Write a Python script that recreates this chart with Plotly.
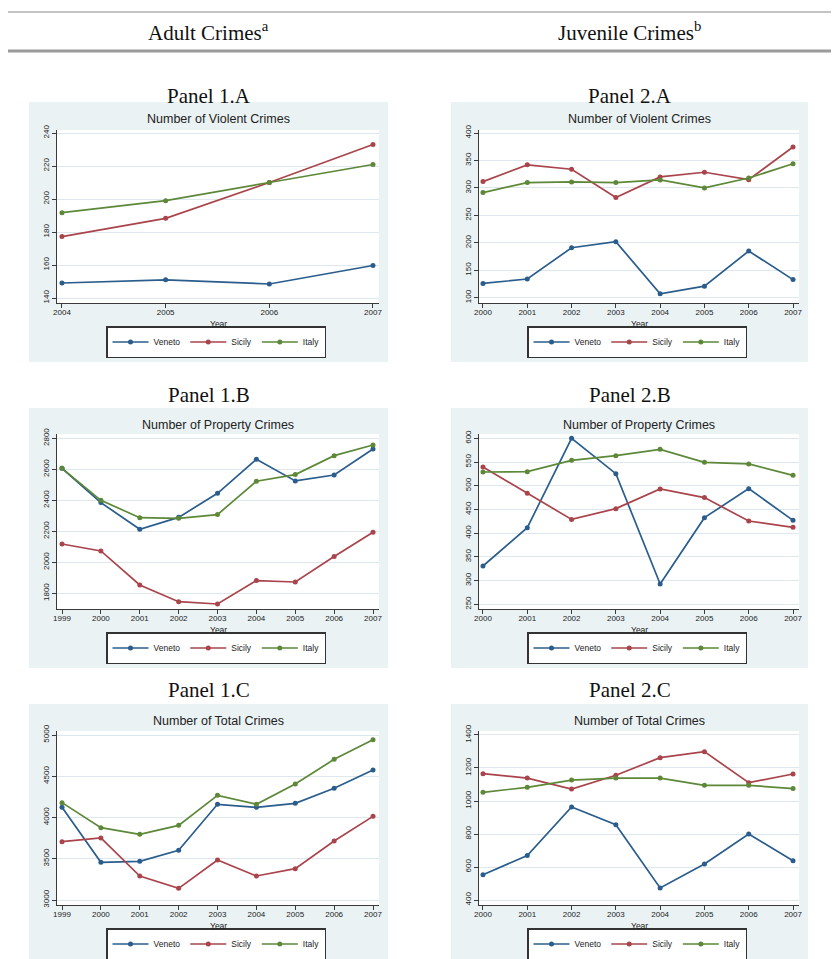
import plotly.graph_objects as go

W, H = 839, 959

# ---------------- data ----------------
series_names = ["Veneto", "Sicily", "Italy"]

years_1a = [2004, 2005, 2006, 2007]
years_adult = [1999, 2000, 2001, 2002, 2003, 2004, 2005, 2006, 2007]
years_juv = [2000, 2001, 2002, 2003, 2004, 2005, 2006, 2007]

# Panel 1.A  Adult violent crimes
adult_violent_veneto = [149.1, 151.0, 148.5, 159.7]
adult_violent_sicily = [177.2, 188.3, 210.0, 233.0]
adult_violent_italy = [191.7, 199.0, 210.0, 220.9]

# Panel 2.A  Juvenile violent crimes
juv_violent_veneto = [126, 134, 191, 202, 107, 121, 185, 133]
juv_violent_sicily = [311.5, 342, 334, 282.4, 320, 328.5, 315, 374.5]
juv_violent_italy = [291.5, 309.7, 311, 309.7, 314.5, 300, 318, 344]

# Panel 1.B  Adult property crimes
adult_property_veneto = [2606, 2385, 2213, 2290, 2445, 2665, 2525, 2563, 2731]
adult_property_sicily = [2118, 2073, 1854, 1746, 1731, 1882, 1873, 2037, 2194]
adult_property_italy = [2606, 2400, 2288, 2284, 2308, 2523, 2566, 2688, 2757]

# Panel 2.B  Juvenile property crimes
juv_property_veneto = [330.8, 411.6, 600, 525.5, 292.9, 432.7, 493.9, 427]
juv_property_sicily = [539.6, 484, 429, 451.7, 493.2, 475, 425.7, 412.4]
juv_property_italy = [529, 529.7, 553.6, 563.5, 576.8, 549.4, 546, 522]

# Panel 1.C  Adult total crimes
adult_total_veneto = [4123, 3457, 3469, 3602, 4160, 4123, 4172, 4354, 4576]
adult_total_sicily = [3707, 3752, 3291, 3141, 3485, 3291, 3380, 3715, 4014]
adult_total_italy = [4180, 3877, 3796, 3905, 4269, 4160, 4406, 4705, 4943]

# Panel 2.C  Juvenile total crimes
juv_total_veneto = [553.5, 669, 963.6, 856.6, 472.7, 618, 800, 638]
juv_total_sicily = [1165.7, 1139, 1072.7, 1155.6, 1262.6, 1299, 1111, 1163.6]
juv_total_italy = [1052.5, 1083, 1127, 1139, 1139, 1095, 1095, 1075]

# tick values
yticks_1a = [140, 160, 180, 200, 220, 240]
yticks_2a = [100, 150, 200, 250, 300, 350, 400]
yticks_1b = [1800, 2000, 2200, 2400, 2600, 2800]
yticks_2b = [250, 300, 350, 400, 450, 500, 550, 600]
yticks_1c = [3000, 3500, 4000, 4500, 5000]
yticks_2c = [400, 600, 800, 1000, 1200, 1400]

column_headers = ["Adult Crimes<sup>a</sup>", "Juvenile Crimes<sup>b</sup>"]
panel_labels = ["Panel 1.A", "Panel 2.A", "Panel 1.B", "Panel 2.B", "Panel 1.C", "Panel 2.C"]
chart_titles = ["Number of Violent Crimes", "Number of Violent Crimes",
                "Number of Property Crimes", "Number of Property Crimes",
                "Number of Total Crimes", "Number of Total Crimes"]
x_title = "Year"

# ---------------- styling ----------------
colors = ["#2A5D8C", "#A9444B", "#5C8838"]
bg_blue = "#EAF2F4"
grid_col = "#DDE8EE"
axis_col = "#3a3a3a"
sans = "Liberation Sans, Arial, sans-serif"
serif = "Liberation Serif, Times New Roman, serif"

# pixel geometry (page pixels): columns / rows
col_bg = [(29, 388), (451, 808)]
col_plot = [(57, 379), (479, 799)]
row_bg = [(102, 362), (408, 668), (704, 975)]
row_plot = [(130, 303), (434, 609), (731, 905)]
row_panel_label_y = [96, 395, 690]

OFF = 8  # page body margin compensation

panels = [
    dict(x=years_1a, ys=[adult_violent_veneto, adult_violent_sicily, adult_violent_italy],
         xr=[2003.952, 2007.058], yr=[136.97, 241.82], xt=years_1a, yt=yticks_1a),
    dict(x=years_juv, ys=[juv_violent_veneto, juv_violent_sicily, juv_violent_italy],
         xr=[1999.91, 2007.135], yr=[90.35, 405.5], xt=years_juv, yt=yticks_2a),
    dict(x=years_adult, ys=[adult_property_veneto, adult_property_sicily, adult_property_italy],
         xr=[1998.871, 2007.154], yr=[1698.7, 2827.7], xt=years_adult, yt=yticks_1b),
    dict(x=years_juv, ys=[juv_property_veneto, juv_property_sicily, juv_property_italy],
         xr=[1999.91, 2007.135], yr=[240.1, 609.1], xt=years_juv, yt=yticks_2b),
    dict(x=years_adult, ys=[adult_total_veneto, adult_total_sicily, adult_total_italy],
         xr=[1998.871, 2007.154], yr=[2939.4, 5048.5], xt=years_adult, yt=yticks_1c),
    dict(x=years_juv, ys=[juv_total_veneto, juv_total_sicily, juv_total_italy],
         xr=[1999.91, 2007.135], yr=[369.7, 1424.2], xt=years_juv, yt=yticks_2c),
]


def px_x(p):
    return (p - OFF) / W


def px_y(p):
    return 1 - (p - OFF) / H


fig = go.Figure()
shapes = []
annotations = []
layout_extra = {}

# header lines
shapes.append(dict(type="line", xref="paper", yref="paper", x0=px_x(7), x1=px_x(845),
                   y0=px_y(12), y1=px_y(12), line=dict(color="#8a8a8a", width=1.2)))
shapes.append(dict(type="line", xref="paper", yref="paper", x0=px_x(7), x1=px_x(845),
                   y0=px_y(51), y1=px_y(51), line=dict(color="#9a9a9a", width=3)))
for c, txt in enumerate(column_headers):
    cx = (col_bg[c][0] + col_bg[c][1]) / 2
    annotations.append(dict(text=txt, x=px_x(cx), y=px_y(32), xref="paper", yref="paper",
                            showarrow=False, xanchor="center", yanchor="middle",
                            font=dict(family=serif, size=21, color="#111")))

for i, p in enumerate(panels):
    r, c = divmod(i, 2)
    k = i + 1
    xa = "xaxis" if k == 1 else f"xaxis{k}"
    ya = "yaxis" if k == 1 else f"yaxis{k}"
    xref = "x" if k == 1 else f"x{k}"
    yref = "y" if k == 1 else f"y{k}"
    leg = "legend" if k == 1 else f"legend{k}"

    bx0, bx1 = col_bg[c]
    by0, by1 = row_bg[r]
    px0, px1 = col_plot[c]
    py0, py1 = row_plot[r]

    shapes.append(dict(type="rect", xref="paper", yref="paper", layer="below",
                       x0=px_x(bx0), x1=px_x(bx1), y0=px_y(by1), y1=px_y(by0),
                       fillcolor=bg_blue, line=dict(width=0)))
    shapes.append(dict(type="rect", xref="paper", yref="paper", layer="below",
                       x0=px_x(px0), x1=px_x(px1), y0=px_y(py1), y1=px_y(py0),
                       fillcolor="white", line=dict(width=0)))

    for s, name in enumerate(series_names):
        fig.add_trace(go.Scatter(
            x=p["x"], y=p["ys"][s], name=name, mode="lines+markers",
            line=dict(color=colors[s], width=1.7),
            marker=dict(color=colors[s], size=5),
            xaxis=xref, yaxis=yref, legend=leg, showlegend=True,
        ))

    layout_extra[xa] = dict(
        domain=[px_x(px0), px_x(px1)], range=p["xr"], tickmode="array", tickvals=p["xt"],
        ticktext=[str(v) for v in p["xt"]], showgrid=False, zeroline=False,
        showline=True, linecolor=axis_col, linewidth=1, ticks="outside", ticklen=4,
        tickcolor=axis_col, tickfont=dict(family=sans, size=8, color="#222"),
        ticklabelstandoff=-3,
        anchor=yref, fixedrange=True, automargin=False,
    )
    layout_extra[ya] = dict(
        domain=[px_y(py1), px_y(py0)], range=p["yr"], tickmode="array", tickvals=p["yt"],
        ticktext=[str(v) for v in p["yt"]], showgrid=True, gridcolor=grid_col, gridwidth=1,
        zeroline=False, showline=True, linecolor=axis_col, linewidth=1, ticks="outside",
        ticklen=4, tickcolor=axis_col, tickangle=-90,
        tickfont=dict(family=sans, size=8, color="#222"), anchor=xref, fixedrange=True,
        automargin=False,
    )

    cxp = (px0 + px1) / 2
    cxb = (bx0 + bx1) / 2
    # panel label
    annotations.append(dict(text=panel_labels[i], x=px_x(cxb), y=px_y(row_panel_label_y[r]),
                            xref="paper", yref="paper", showarrow=False,
                            xanchor="center", yanchor="middle",
                            font=dict(family=serif, size=21, color="#111")))
    # chart title
    annotations.append(dict(text=chart_titles[i], x=px_x(cxp), y=px_y(by0 + 17),
                            xref="paper", yref="paper", showarrow=False,
                            xanchor="center", yanchor="middle",
                            font=dict(family=sans, size=12.5, color="#222")))
    # x title
    annotations.append(dict(text=x_title, x=px_x(cxp), y=px_y(py1 + 21),
                            xref="paper", yref="paper", showarrow=False,
                            xanchor="center", yanchor="middle",
                            font=dict(family=sans, size=8.5, color="#222")))
    layout_extra[leg] = dict(
        orientation="h", x=px_x(cxp - 2), y=px_y(py1 + 39), xanchor="center", yanchor="middle",
        bgcolor="white", bordercolor="#333", borderwidth=1.5,
        font=dict(family=sans, size=8.5, color="#222"), itemwidth=36,
        tracegroupgap=0, itemclick=False, itemdoubleclick=False,
    )

fig.update_layout(
    width=W, height=H, margin=dict(l=0, r=0, t=0, b=0, pad=0, autoexpand=False),
    paper_bgcolor="white", plot_bgcolor="rgba(0,0,0,0)",
    shapes=shapes, annotations=annotations, **layout_extra,
)

fig.write_html("out.html")
